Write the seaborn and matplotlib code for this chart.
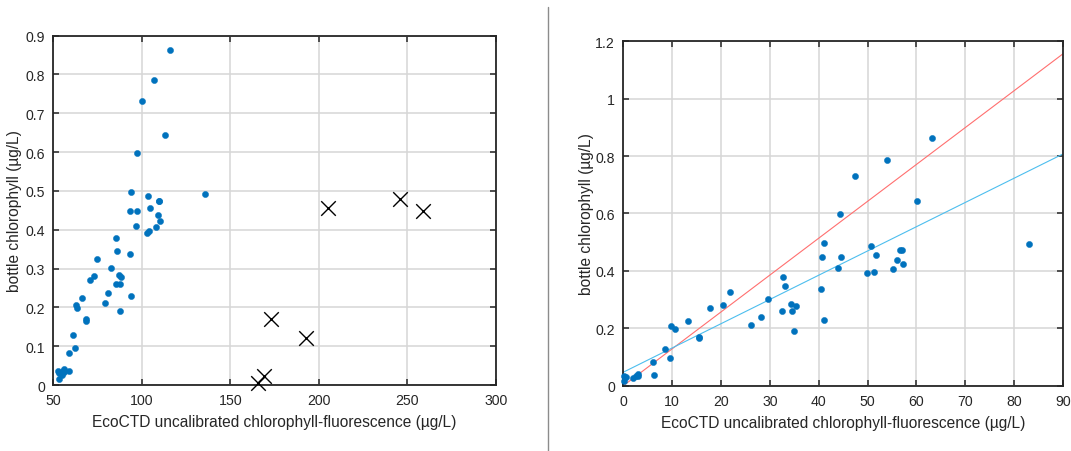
import numpy as np
import pandas as pd
import matplotlib
matplotlib.use("Agg")
import matplotlib.pyplot as plt
from matplotlib.lines import Line2D
import seaborn as sns

# ---------------- data ----------------
# Right panel (offset-corrected fluorescence vs bottle chlorophyll)
right_x = [0.1, 0.5, 0.2, 2.05, 2.5, 2.95, 2.95, 6.1, 6.3, 8.5, 9.6, 9.8, 10.6,
           13.2, 15.4, 15.5, 17.8, 20.4, 21.9, 26.2, 28.2, 29.6, 32.5, 32.7,
           33.1, 34.3, 34.6, 35.3, 34.9, 40.4, 40.7, 41.1, 41.1, 43.9, 44.4,
           44.6, 47.5, 50.7, 51.8, 49.9, 51.4, 53.9, 55.1, 56.1, 56.6, 57.0,
           57.2, 60.2, 63.1, 83.1]
chl = [0.035, 0.032, 0.015, 0.026, 0.035, 0.041, 0.033, 0.082, 0.037, 0.128,
       0.095, 0.207, 0.198, 0.225, 0.169, 0.165, 0.271, 0.282, 0.325, 0.211,
       0.238, 0.301, 0.260, 0.378, 0.346, 0.284, 0.260, 0.278, 0.191, 0.338,
       0.447, 0.496, 0.230, 0.410, 0.597, 0.449, 0.732, 0.488, 0.455, 0.392,
       0.396, 0.786, 0.406, 0.438, 0.473, 0.474, 0.423, 0.644, 0.864, 0.493]
# Left panel (uncalibrated fluorescence)
left_x = [52.9, 53.3, 53.0, 54.85, 55.3, 55.75, 55.75, 58.9, 59.1, 61.3, 62.4,
          62.6, 63.4, 66.0, 68.2, 68.3, 70.6, 73.2, 74.7, 79.0, 81.0, 82.4,
          85.3, 85.5, 85.9, 87.1, 87.4, 88.1, 87.7, 93.2, 93.5, 93.9, 93.9,
          96.7, 97.2, 97.4, 100.3, 103.5, 104.6, 102.7, 104.2, 106.7, 107.9,
          108.9, 109.4, 109.8, 110.0, 113.0, 115.9, 135.9]
# Rejected samples (crosses)
rej_x = [165.7, 169.1, 172.7, 192.7, 204.9, 245.8, 258.6]
rej_y = [0.006, 0.023, 0.171, 0.121, 0.457, 0.479, 0.449]
# Fit lines: (intercept, slope)
fit_red = (0.0, 0.01285)
fit_blue = (0.047, 0.00845)

left_xticks = [50, 100, 150, 200, 250, 300]
left_yticks = [0, 0.1, 0.2, 0.3, 0.4, 0.5, 0.6, 0.7, 0.8, 0.9]
right_xticks = [0, 10, 20, 30, 40, 50, 60, 70, 80, 90]
right_yticks = [0, 0.2, 0.4, 0.6, 0.8, 1.0, 1.2]
xlabel = "EcoCTD uncalibrated chlorophyll-fluorescence (\u00b5g/L)"
ylabel = "bottle chlorophyll (\u00b5g/L)"

# ---------------- style ----------------
sns.set_theme(style="white")
plt.rcParams["font.family"] = ["Liberation Sans", "DejaVu Sans"]
DARK = "#262626"
BLUE = "#0072BD"

fig = plt.figure(figsize=(10.71, 4.52), dpi=100)
axL = fig.add_axes([0.0498, 0.146, 0.4133, 0.773])
axR = fig.add_axes([0.582, 0.1445, 0.4106, 0.762])

def style_axis(ax, xticks, yticks, xlim, ylim, ylab_x):
    ax.set_xlim(*xlim)
    ax.set_ylim(*ylim)
    ax.set_xticks(xticks)
    ax.set_yticks(yticks)
    ax.set_xticklabels([f"{t:g}" for t in xticks])
    ax.set_yticklabels([f"{t:g}" for t in yticks])
    ax.grid(True, color="#d6d6d6", lw=1.1)
    ax.set_axisbelow(True)
    ax.tick_params(direction="in", length=4, width=1.1, color=DARK,
                   labelcolor=DARK, labelsize=10.2, top=True, right=True,
                   bottom=True, left=True, pad=6)
    for s in ax.spines.values():
        s.set_color(DARK)
        s.set_linewidth(1.3)
        s.set_visible(True)
    ax.set_xlabel(xlabel, fontsize=11.2, color=DARK, labelpad=5)
    ax.set_ylabel(ylabel, fontsize=11.2, color=DARK)
    ax.yaxis.set_label_coords(ylab_x, 0.5)
    ax.set_facecolor("white")

# Left panel
dfL = pd.DataFrame({"x": left_x, "y": chl})
sns.scatterplot(data=dfL, x="x", y="y", ax=axL, color=BLUE, s=20,
                edgecolor=BLUE, linewidth=0.3, zorder=3)
dfRej = pd.DataFrame({"x": rej_x, "y": rej_y})
sns.scatterplot(data=dfRej, x="x", y="y", ax=axL, marker="x", color="black",
                s=110, linewidth=1.0, zorder=3, clip_on=False)
style_axis(axL, left_xticks, left_yticks, (50, 300), (0, 0.9), -0.071)

# Right panel
dfR = pd.DataFrame({"x": right_x, "y": chl})
xr = np.array([0.0, 90.0])
dfRed = pd.DataFrame({"x": xr, "y": fit_red[0] + fit_red[1] * xr})
dfBlue = pd.DataFrame({"x": xr, "y": fit_blue[0] + fit_blue[1] * xr})
sns.lineplot(data=dfRed, x="x", y="y", ax=axR, color="#ff6f6f", lw=0.8, zorder=2)
sns.lineplot(data=dfBlue, x="x", y="y", ax=axR, color="#4DBEEE", lw=0.8, zorder=2)
sns.scatterplot(data=dfR, x="x", y="y", ax=axR, color=BLUE, s=20,
                edgecolor=BLUE, linewidth=0.3, zorder=3, clip_on=False)
style_axis(axR, right_xticks, right_yticks, (0, 90), (0, 1.2), -0.067)

# separator line
fig.add_artist(Line2D([548 / 1071, 548 / 1071], [0, 1 - 8 / 452],
                      transform=fig.transFigure, color="#8c8c8c", lw=1.0))

fig.savefig("out.png", dpi=100, facecolor="white")
